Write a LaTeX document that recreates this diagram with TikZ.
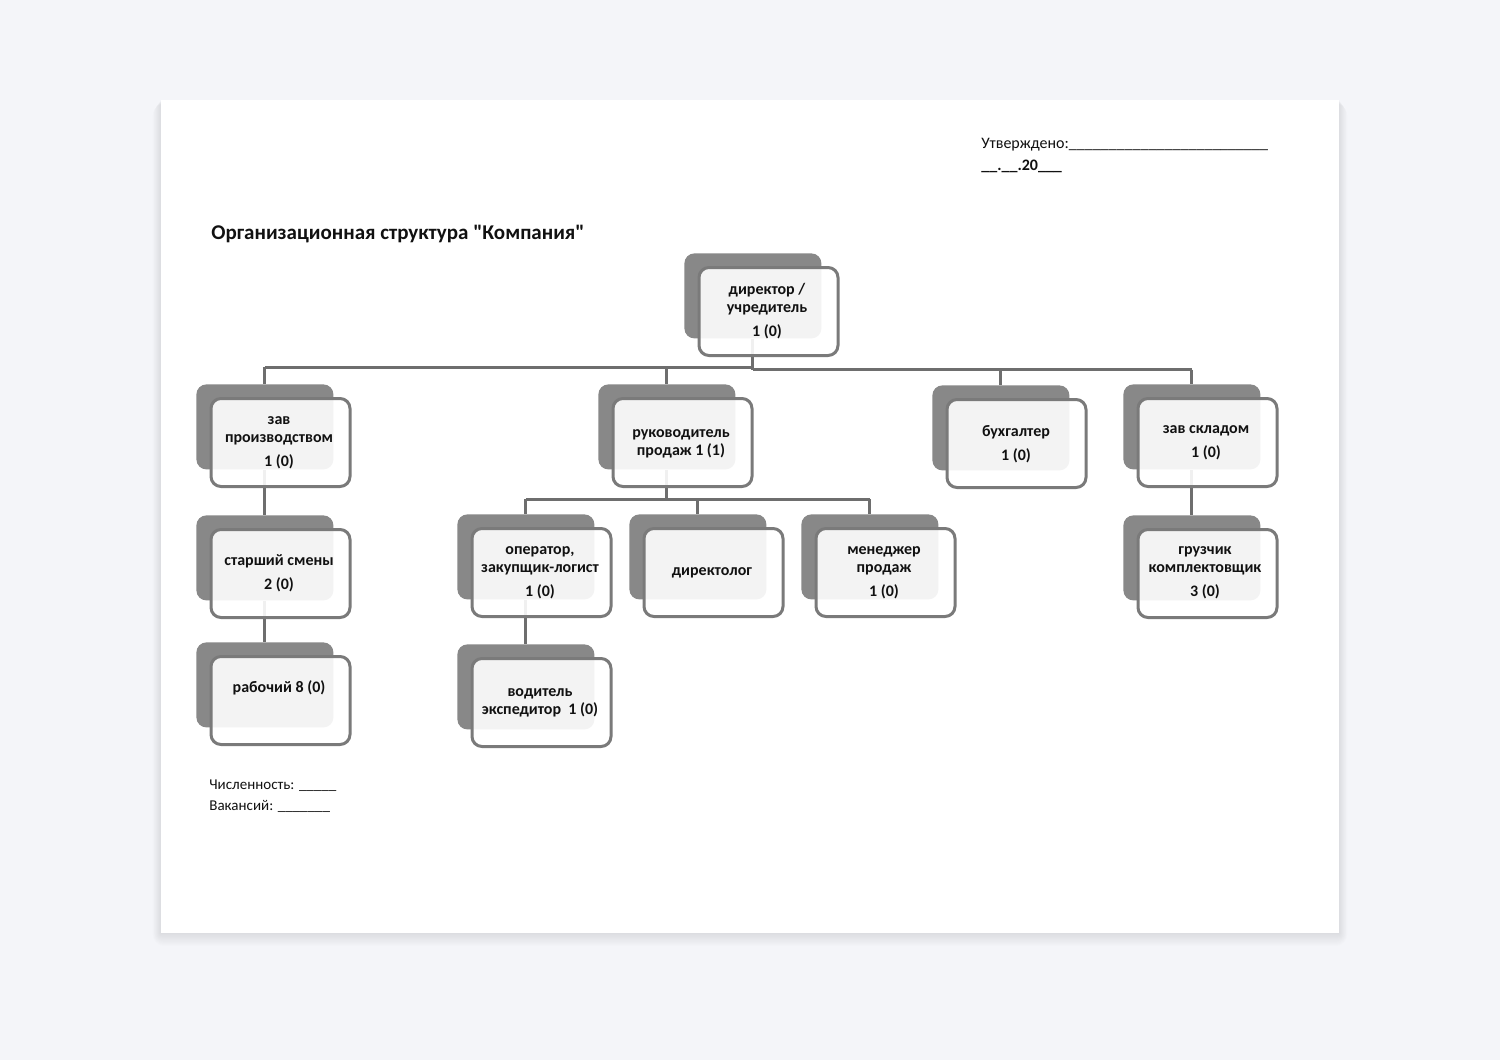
\documentclass[tikz,border=0pt]{standalone}
\usepackage{fontspec}
\setmainfont{Carlito}[Ligatures=TeXOff]
\pgfdeclarelayer{page}
\pgfdeclarelayer{links}
\pgfsetlayers{page,links,main}
\definecolor{bgc}{HTML}{F4F5F9}
\definecolor{boxdark}{HTML}{888888}
\definecolor{boxline}{HTML}{7A7A7A}
\definecolor{linkc}{HTML}{6E6E6E}
\definecolor{txt}{HTML}{111111}
\tikzset{
  darkbox/.style={fill=boxdark, rounded corners=5pt, minimum width=68.5pt, minimum height=42.5pt, anchor=north west, inner sep=0pt},
  frontbox/.style={draw=boxline, line width=1.5pt, fill=white, fill opacity=0.9, rounded corners=5pt, minimum width=69.5pt, minimum height=44pt, anchor=north west, inner sep=0pt},
  boxtext/.style={font=\bfseries\fontsize{8}{9}\selectfont, text=txt, align=center, inner sep=0pt},
  link/.style={draw=linkc, line width=1.5pt},
  plain/.style={text=txt, inner sep=0pt, anchor=west}
}
\newcommand\orgbox[3]{%
  \node[darkbox] (#1d) at (#2,#3) {};
  \node[frontbox] (#1) at (#2+13.5,#3+13) {};
}
\begin{document}
\begin{tikzpicture}[x=0.5pt,y=-0.5pt]
\useasboundingbox (0,0) rectangle (1500,1060);
\begin{pgfonlayer}{page}
  \fill[bgc] (0,0) rectangle (1500,1060);
  \foreach \i in {1,...,12} {
    \fill[black, opacity=0.008, rounded corners=\i*0.5pt] (161-\i*0.7,100+\i*0.3) rectangle (1339+\i*0.7,933+\i*1.1);
  }
  \fill[white] (161,100) rectangle (1339,933);
\end{pgfonlayer}

% header texts
\node[plain, font=\fontsize{8}{9}\selectfont] (appr) at (981,145) {Утверждено:\_\_\_\_\_\_\_\_\_\_\_\_\_\_\_\_\_\_\_\_\_\_\_\_\_};
\node[plain, font=\bfseries\fontsize{8}{9}\selectfont] (date) at (981,166) {\_\_.\_\_.20\_\_\_};
\node[plain, font=\bfseries\fontsize{10.5}{12}\selectfont] (title) at (211,234) {Организационная структура "Компания"};
\node[plain, font=\fontsize{7.5}{8}\selectfont] (num) at (209,786) {Численность: \_\_\_\_\_};
\node[plain, font=\fontsize{7.5}{8}\selectfont] (vac) at (209,806) {Вакансий: \_\_\_\_\_\_\_};

% boxes
\orgbox{dir}{684}{253}
\orgbox{zp}{196}{384}
\orgbox{ss}{196}{515}
\orgbox{rab}{196}{642}
\orgbox{ruk}{598}{384}
\orgbox{buh}{932}{385}
\orgbox{zs}{1123}{384}
\orgbox{op}{457}{514}
\orgbox{dl}{629}{514}
\orgbox{mp}{801}{514}
\orgbox{vod}{457}{644}
\orgbox{gr}{1123}{515}

% texts
\node[boxtext] (tdir) at (767,311.5) {директор /\\учредитель\\[3pt]1 (0)};
\node[boxtext] (tzp) at (279,442.5) {зав\\производством\\[3pt]1 (0)};
\node[boxtext] (tss) at (279,573) {старший смены\\[3pt]2 (0)};
\node[boxtext] (trab) at (279,688) {рабочий 8 (0)};
\node[boxtext] (truk) at (681,444) {руководитель\\продаж 1 (1)};
\node[boxtext] (tbuh) at (1016,444) {бухгалтер\\[3pt]1 (0)};
\node[boxtext] (tzs) at (1206,443) {зав складом\\[3pt]1 (0)};
\node[boxtext] (top) at (540,572.5) {оператор,\\закупщик-логист\\[3pt]1 (0)};
\node[boxtext] (tdl) at (712,572.5) {директолог};
\node[boxtext] (tmp) at (884,572.5) {менеджер\\продаж\\[3pt]1 (0)};
\node[boxtext] (tvod) at (540,702.5) {водитель\\экспедитор\ \ 1 (0)};
\node[boxtext] (tgr) at (1205,572.5) {грузчик\\комплектовщик\\[3pt]3 (0)};

% connectors
\coordinate (busL) at (0,367);
\coordinate (busR) at (0,369.5);
\coordinate (busS) at (0,499);
\begin{pgfonlayer}{links}
  \draw[link] (dird.south) -- (dird.south |- busR);
  \draw[link] (zpd.north |- busL) -- (dird.south |- busL);
  \draw[link] (dird.south |- busR) -- (zsd.north |- busR);
  \draw[link] (zpd.north |- busL) -- (zpd.north);
  \draw[link] (rukd.north |- busL) -- (rukd.north);
  \draw[link] (buhd.north |- busR) -- (buhd.north);
  \draw[link] (zsd.north |- busR) -- (zsd.north);
  \draw[link] (rukd.south) -- (rukd.south |- busS);
  \draw[link] (opd.north |- busS) -- (mpd.north |- busS);
  \draw[link] (opd.north |- busS) -- (opd.north);
  \draw[link] (dld.north |- busS) -- (dld.north);
  \draw[link] (mpd.north |- busS) -- (mpd.north);
  \draw[link] (zpd.south) -- (ssd.north);
  \draw[link] (ssd.south) -- (rabd.north);
  \draw[link] (opd.south) -- (vodd.north);
  \draw[link] (zsd.south) -- (grd.north);
\end{pgfonlayer}
\end{tikzpicture}
\end{document}
